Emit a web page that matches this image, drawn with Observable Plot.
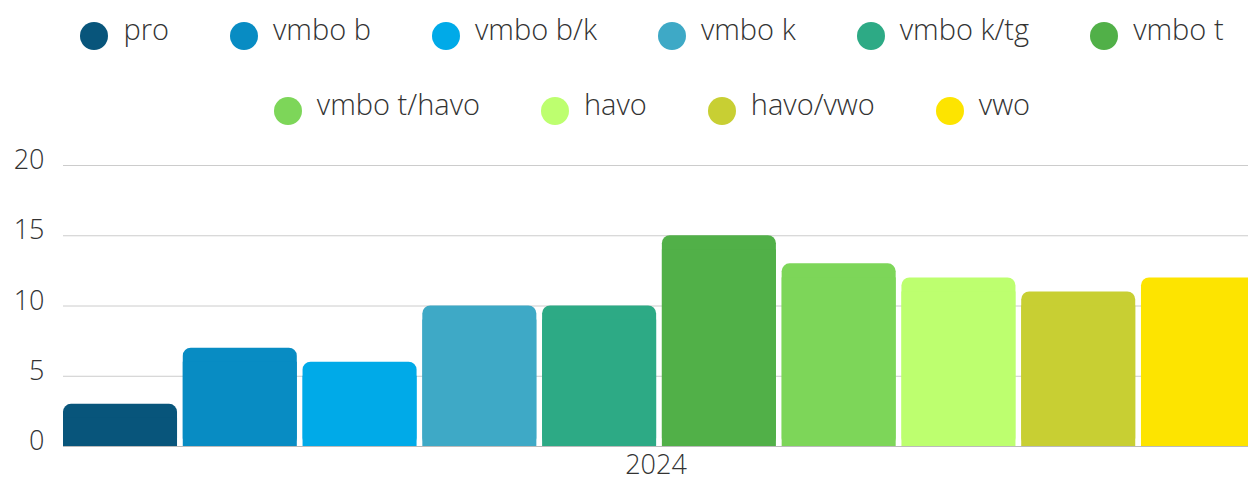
<!DOCTYPE html>
<html>
<head>
<meta charset="utf-8">
<script src="https://cdn.jsdelivr.net/npm/d3@7"></script>
<script src="https://cdn.jsdelivr.net/npm/@observablehq/plot@0.6"></script>
<style>
  html, body { margin: 0; padding: 0; background: #fff; }
  body { width: 1248px; height: 482px; overflow: hidden; font-family: "Open Sans", sans-serif; }
  #legend { position: relative; height: 140px; width: 1248px; }
  .row { position: absolute; left: 0; width: 1248px; height: 40px; display: flex; justify-content: center; align-items: center; padding-left: 56px; box-sizing: border-box; }
  .item { display: flex; align-items: center; margin: 0 30.5px; }
  .dot { width: 28px; height: 28px; border-radius: 50%; margin-right: 15px; flex: none; }
  .lab { font-size: 29px; font-weight: 300; color: #333; line-height: 40px; white-space: nowrap; position: relative; top: -7px; }
</style>
</head>
<body>
<div id="legend"></div>
<div id="chart"></div>
<script>
const categories = ["pro", "vmbo b", "vmbo b/k", "vmbo k", "vmbo k/tg", "vmbo t", "vmbo t/havo", "havo", "havo/vwo", "vwo"];
const values = [3, 7, 6, 10, 10, 15, 13, 12, 11, 12];
const colors = ["#08557b", "#088cc3", "#00aae8", "#3ea9c6", "#2daa85", "#51b048", "#7dd659", "#bdff6f", "#c8cf33", "#fde400"];
const years = ["2024"];
const yTicks = [0, 5, 10, 15, 20];
const legendRows = [categories.slice(0, 6), categories.slice(6)];

const data = categories.map((c, i) => ({cat: c, value: values[i]}));

// legend
const legend = document.getElementById("legend");
const rowTops = [15.5, 91];
legendRows.forEach((row, r) => {
  const div = document.createElement("div");
  div.className = "row";
  div.style.top = rowTops[r] + "px";
  row.forEach(c => {
    const it = document.createElement("div");
    it.className = "item";
    const dot = document.createElement("span");
    dot.className = "dot";
    dot.style.background = colors[categories.indexOf(c)];
    const lab = document.createElement("span");
    lab.className = "lab";
    lab.textContent = c;
    it.appendChild(dot); it.appendChild(lab);
    div.appendChild(it);
  });
  legend.appendChild(div);
});

const chart = Plot.plot({
  width: 1248,
  height: 342,
  marginTop: 25,
  marginBottom: 36,
  marginLeft: 63,
  marginRight: 0,
  style: {overflow: "hidden", fontFamily: "'Open Sans', sans-serif", background: "#fff"},
  x: {domain: categories, range: [63, 1255], paddingInner: 0.048, paddingOuter: 0, round: false, axis: null},
  y: {domain: [0, 20], axis: null},
  color: {domain: categories, range: colors},
  marks: [
    Plot.ruleY(yTicks, {stroke: "#cccccc", strokeWidth: 1}),
    Plot.axisY(yTicks, {tickSize: 0, tickPadding: 19, fontSize: 27, fontWeight: 300, fill: "#333", dy: -5, label: null}),
    Plot.barY(data, {x: "cat", y: "value", fill: "cat", rx: 8}),
    Plot.barY(data, {x: "cat", y1: 0, y2: d => d.value - 1, fill: "cat"}),
    Plot.ruleY([0], {stroke: "#bbbbbb", strokeWidth: 1}),
    Plot.text(years, {text: d => d, frameAnchor: "bottom", dy: 19, lineAnchor: "middle", fontSize: 27, fontWeight: 300, fill: "#333"})
  ]
});
document.getElementById("chart").appendChild(chart);
</script>
</body>
</html>
